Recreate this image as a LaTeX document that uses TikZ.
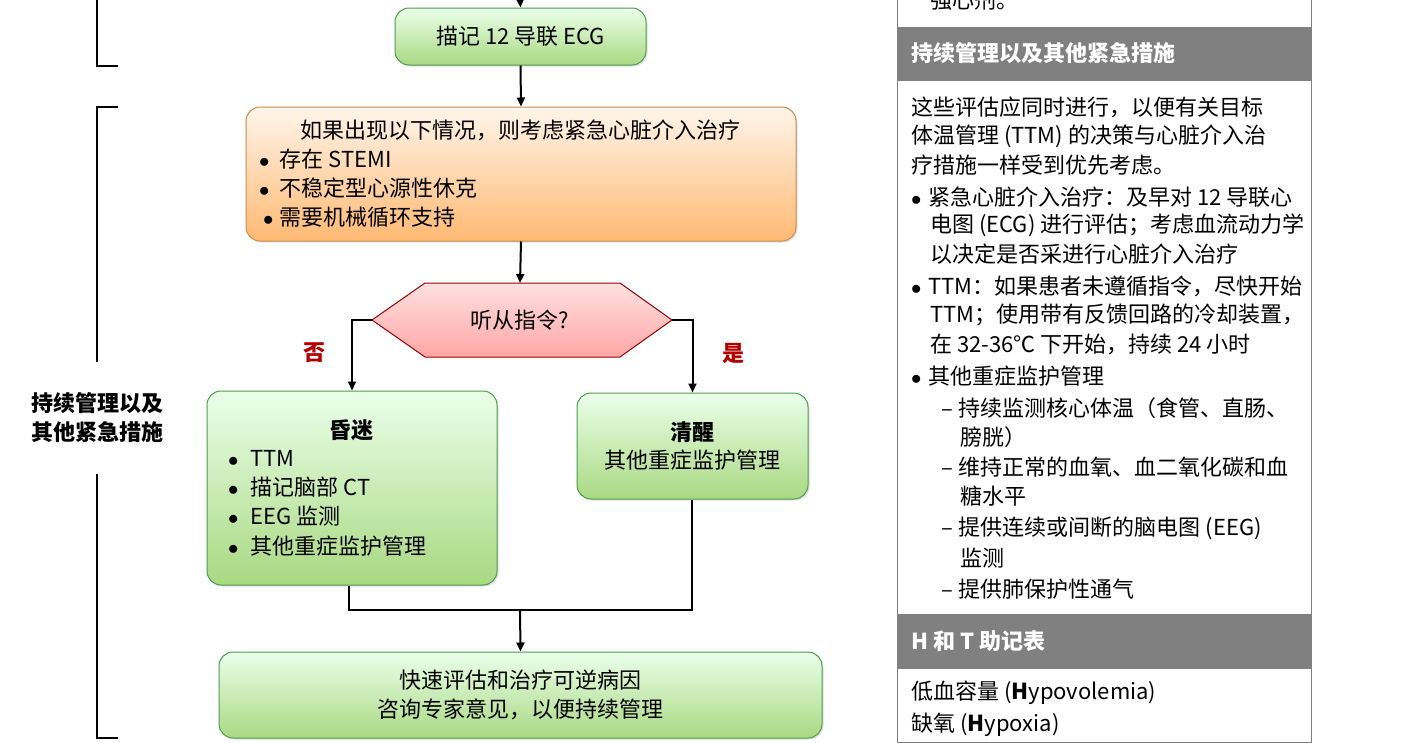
\documentclass[tikz,border=0pt]{standalone}
\usepackage{fontspec}
\setmainfont{Noto Sans CJK SC}
\usetikzlibrary{arrows.meta,shadows}
\newcommand{\bul}{$\bullet$}
\begin{document}
\begin{tikzpicture}[x=1pt,y=-1pt,
  every node/.style={inner sep=0pt,font=\fontsize{22}{22}\selectfont},
  gbox/.style={draw=green!45!black!70,line width=1pt,rounded corners=14pt,top color=green!8!white,bottom color=green!55!yellow!40!white!85!black,drop shadow={opacity=0.25,shadow xshift=1.5pt,shadow yshift=-1.5pt}},
  obox/.style={draw=orange!70!black!70,line width=1pt,rounded corners=14pt,top color=orange!8!white,bottom color=orange!55!white,drop shadow={opacity=0.25,shadow xshift=1.5pt,shadow yshift=-1.5pt}},
  arr/.style={line width=2pt,-{Triangle[length=9pt,width=8pt]}},
  ln/.style={line width=2pt},
  brk/.style={line width=2pt},
  txt/.style={anchor=west},
  bf/.style={font=\fontsize{22}{22}\selectfont\bfseries},
  hdr/.style={fill=black!50,draw=black!50},
  pt/.style={anchor=west}]
\useasboundingbox (0,0) rectangle (1416,742);
% brackets
\coordinate (b0) at (97,-2); \coordinate (b1) at (97,66); \coordinate (b1e) at (118,66);
\draw[brk] (b0) -- (b1) -- (b1e);
\coordinate (b2) at (118,107); \coordinate (b3) at (97,107); \coordinate (b4) at (97,362);
\draw[brk] (b2) -- (b3) -- (b4);
\coordinate (b5) at (97,474); \coordinate (b6) at (97,738); \coordinate (b7) at (118,738);
\draw[brk] (b5) -- (b6) -- (b7);
\node[font=\fontsize{22}{29}\selectfont\bfseries,align=center] (blab) at (97,418) {持续管理以及\\其他紧急措施};
% ECG
\node[gbox,minimum width=251pt,minimum height=57pt] (ecg) at (520.5,36.5) {描记 12 导联 ECG};
\coordinate (top) at (520,-2);
\draw[arr] (top) -- (ecg.north);
% orange
\node[obox,minimum width=550pt,minimum height=134pt] (pci) at (521,174) {};
\draw[arr] (ecg.south) -- (pci.north);
\node (pt1) at (520,130) {如果出现以下情况，则考虑紧急心脏介入治疗};
\node[txt] (p1) at (259,159) {\bul\hspace{10pt}存在 STEMI};
\node[txt] (p2) at (259,188) {\bul\hspace{10pt}不稳定型心源性休克};
\node[txt] (p3) at (263,217) {\bul\hspace{6pt}需要机械循环支持};
% hexagon
\coordinate (h1) at (372,320); \coordinate (h2) at (425,283); \coordinate (h3) at (620,283);
\coordinate (h4) at (672,320); \coordinate (h5) at (620,357); \coordinate (h6) at (425,357);
\draw[draw=red!60!black,line width=1pt,top color=red!12!white,bottom color=red!35!white] (h1)--(h2)--(h3)--(h4)--(h5)--(h6)--cycle;
\node (q) at (520,320) {听从指令?};
\coordinate (htop) at (520,283);
\draw[arr] (pci.south) -- (htop);
% boxes
\node[gbox,minimum width=290pt,minimum height=194pt] (coma) at (352,488) {};
\node[gbox,minimum width=231pt,minimum height=106pt] (clear) at (692.5,446) {};
\draw[arr] (h1) -| (coma.north);
\draw[arr] (h4) -| (clear.north);
\node[bf,text=red!70!black] (no) at (314,353) {否};
\node[bf,text=red!70!black] (yes) at (733,353) {是};
\node[bf] (ct) at (351,430) {昏迷};
\node[txt] (c1) at (228,458) {\bul\hspace{12pt}TTM};
\node[txt] (c2) at (228,487) {\bul\hspace{12pt}描记脑部 CT};
\node[txt] (c3) at (228,516) {\bul\hspace{12pt}EEG 监测};
\node[txt] (c4) at (228,546) {\bul\hspace{12pt}其他重症监护管理};
\node[bf] (kt) at (692,432) {清醒};
\node (k1) at (692,460) {其他重症监护管理};
% merge
\node[gbox,minimum width=603pt,minimum height=86pt] (fin) at (520.5,695) {};
\coordinate (m1) at (349,610); \coordinate (m2) at (692,610); \coordinate (m0) at (520,610);
\draw[ln] (coma.south -| m1) -- (m1) -- (m2) -- (clear.south -| m2);
\draw[arr] (m0) -- (fin.north);
\node (f1) at (520,680) {快速评估和治疗可逆病因};
\node (f2) at (520,709) {咨询专家意见，以便持续管理};
% right panel
\draw[draw=black!50,line width=1pt] (897,-2) rectangle (1311,742);
\node[pt] (r0) at (930,0) {强心剂。};
\draw[hdr] (897,27) rectangle (1311,80);
\node[pt,text=white,font=\fontsize{22}{22}\selectfont\bfseries] (h1t) at (911,53) {持续管理以及其他紧急措施};
\node[pt] at (911,107) {这些评估应同时进行，以便有关目标};
\node[pt] at (911,136) {体温管理 (TTM) 的决策与心脏介入治};
\node[pt] at (911,165) {疗措施一样受到优先考虑。};
\node[pt] at (911,197) {\bul\hspace{7pt}紧急心脏介入治疗：及早对 12 导联心};
\node[pt] at (930,225) {电图 (ECG) 进行评估；考虑血流动力学};
\node[pt] at (930,254) {以决定是否采进行心脏介入治疗};
\node[pt] at (911,286) {\bul\hspace{7pt}TTM：如果患者未遵循指令，尽快开始};
\node[pt] at (930,315) {TTM；使用带有反馈回路的冷却装置，};
\node[pt] at (930,344) {在 32-36℃ 下开始，持续 24 小时};
\node[pt] at (911,376) {\bul\hspace{7pt}其他重症监护管理};
\node[pt] at (941,408) {–\hspace{6pt}持续监测核心体温（食管、直肠、};
\node[pt] at (960,437) {膀胱）};
\node[pt] at (941,467) {–\hspace{6pt}维持正常的血氧、血二氧化碳和血};
\node[pt] at (960,496) {糖水平};
\node[pt] at (941,528) {–\hspace{6pt}提供连续或间断的脑电图 (EEG)};
\node[pt] at (960,558) {监测};
\node[pt] at (941,589) {–\hspace{6pt}提供肺保护性通气};
\draw[hdr] (897,614) rectangle (1311,668);
\node[pt,text=white,font=\fontsize{22}{22}\selectfont\bfseries] at (911,641) {H 和 T 助记表};
\node[pt] at (911,693) {低血容量 (\textbf{H}ypovolemia)};
\node[pt] at (911,725) {缺氧 (\textbf{H}ypoxia)};
\end{tikzpicture}
\end{document}
